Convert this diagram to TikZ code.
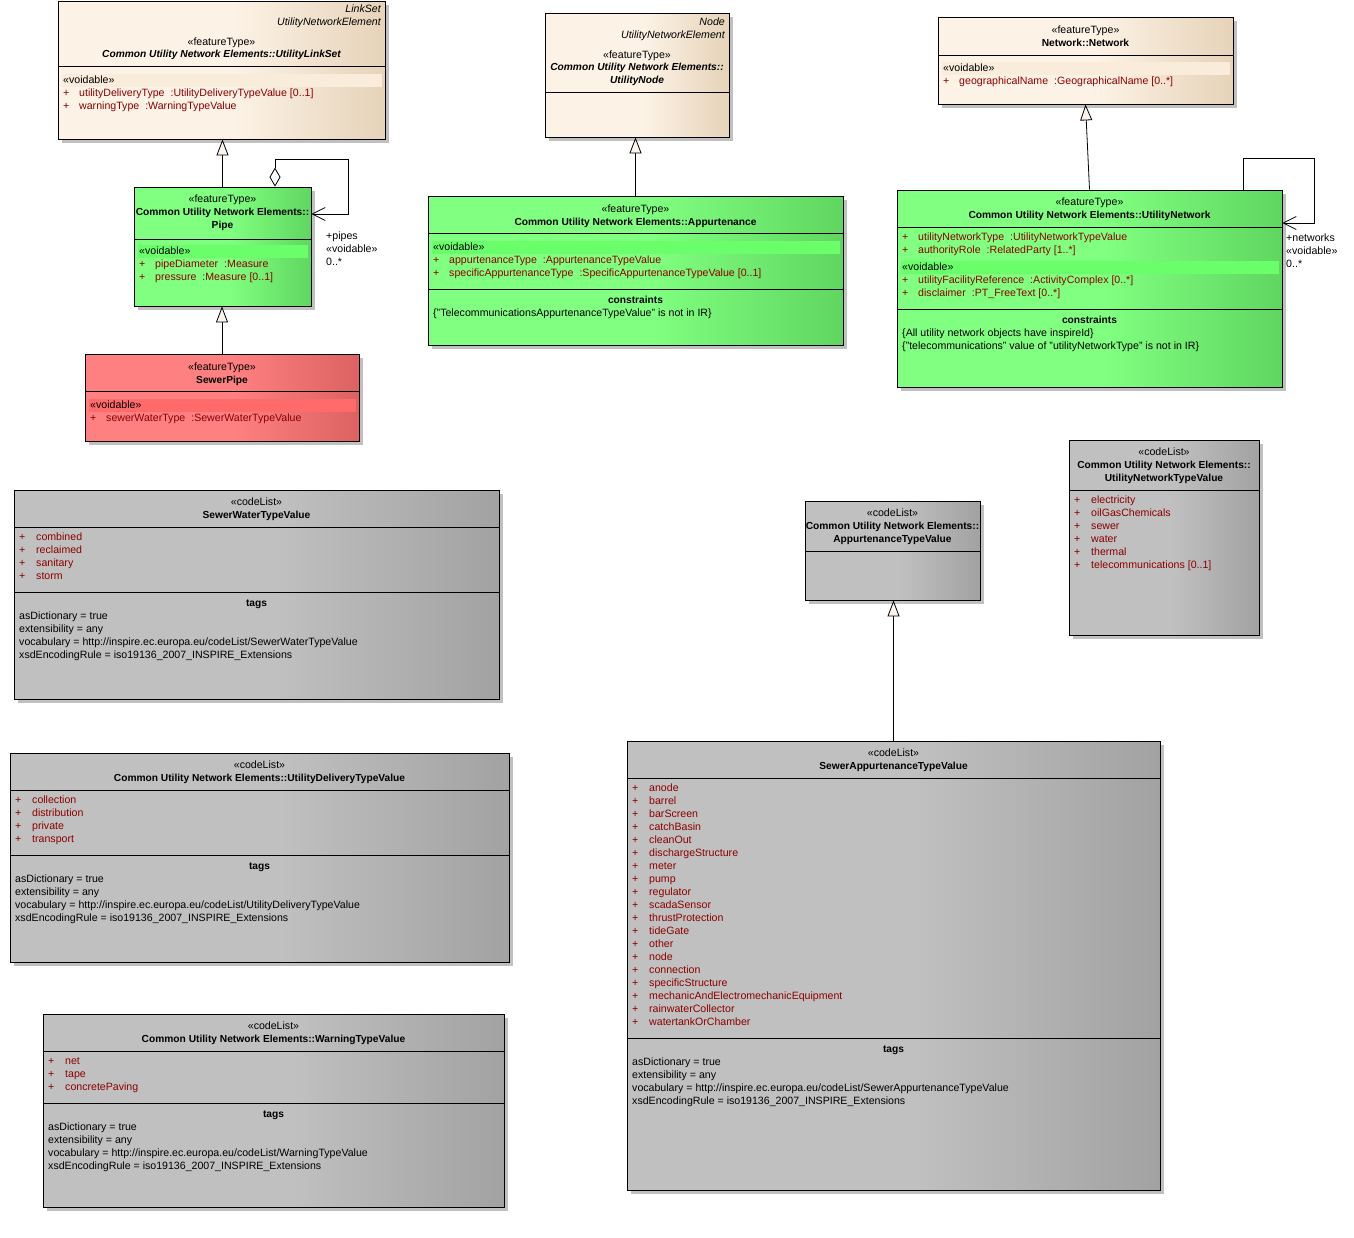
\documentclass[tikz,border=0pt]{standalone}
\usepackage{fontspec}
\setmainfont{Liberation Sans}
\usetikzlibrary{arrows.meta,fit,calc}
\definecolor{beL}{HTML}{FCF2E5}
\definecolor{beD}{HTML}{E6D3B9}
\definecolor{grL}{HTML}{80FF80}
\definecolor{grD}{HTML}{60D660}
\definecolor{reL}{HTML}{FF8080}
\definecolor{reD}{HTML}{DC6262}
\definecolor{gyL}{HTML}{C0C0C0}
\definecolor{gyD}{HTML}{A2A2A2}
\definecolor{beB}{HTML}{F9ECDB}
\definecolor{grB}{HTML}{6AFF6A}
\definecolor{reB}{HTML}{FF6A6A}
\definecolor{attr}{HTML}{8C0000}
\definecolor{shad}{HTML}{C0C0C0}
\definecolor{tri}{HTML}{FBF5EC}
\pgfdeclarehorizontalshading{beS}{100bp}{color(0bp)=(beL); color(52bp)=(beL); color(75bp)=(beD); color(100bp)=(beD)}
\pgfdeclarehorizontalshading{grS}{100bp}{color(0bp)=(grL); color(52bp)=(grL); color(75bp)=(grD); color(100bp)=(grD)}
\pgfdeclarehorizontalshading{reS}{100bp}{color(0bp)=(reL); color(52bp)=(reL); color(75bp)=(reD); color(100bp)=(reD)}
\pgfdeclarehorizontalshading{gyS}{100bp}{color(0bp)=(gyL); color(52bp)=(gyL); color(75bp)=(gyD); color(100bp)=(gyD)}
\newcommand\fs{\fontsize{10.6}{12}\selectfont}
\newcommand\fsb{\fontsize{10.2}{12}\selectfont}
\newcounter{tn}
\newcommand\T[3][]{\stepcounter{tn}\node[txt,#1] (t\arabic{tn}) at (#2) {#3};}
\newcommand\umlbox[6]{%
  \fill[shad] (#2+4,#3+4) rectangle (#4+4,#5+4);
  \node[fit={(#2,#3) (#4,#5)},inner sep=0pt,draw=black,line width=0.8pt,shade,shading=#6] (#1) {};}
\newcommand\cdiv[3]{\draw[div] (#1,#3) -- (#2,#3);}
\newcommand\band[4]{\fill[#4] (#1+4,#3-6.5) rectangle (#2-3,#3+6.5);}
\newcommand\attr[4]{\T[ac]{#1+5,#2}{+}\T[ac]{#1+21,#2}{#3\hspace{6pt}:#4}}
\newcommand\litem[3]{\T[ac]{#1+5,#2}{+}\T[ac]{#1+22,#2}{#3}}
\begin{document}
\begin{tikzpicture}[x=1pt,y=-1pt,
  txt/.style={inner sep=0pt,anchor=west,font=\fs,text height=7pt,text depth=2pt,yshift=-0.8pt},
  ct/.style={anchor=center}, rt/.style={anchor=east},
  it/.style={font=\fs\itshape}, bf/.style={font=\fsb\bfseries}, bi/.style={font=\fsb\bfseries\itshape},
  ac/.style={text=attr},
  div/.style={line width=0.8pt},
  gen/.style={line width=0.8pt,-{Triangle[length=16pt,width=12pt,fill=tri]}},
  agg/.style={line width=0.8pt,{Diamond[length=19pt,width=11pt,fill=white]}-{Straight Barb[length=13pt,width=13pt]}},
  nav/.style={line width=0.8pt,-{Straight Barb[length=13pt,width=13pt]}}]
\fill[white] (0,0) rectangle (1354,1237);
\useasboundingbox (0,0) rectangle (1354,1237);

% ---------- UtilityLinkSet
\umlbox{linkset}{58}{1}{385}{139}{beS}
\T[rt,it]{381,9.5}{LinkSet}
\T[rt,it]{381,22.5}{UtilityNetworkElement}
\T[ct]{221.5,42.5}{«featureType»}
\T[ct,bi]{221.5,54.5}{Common Utility Network Elements::UtilityLinkSet}
\cdiv{58}{385}{66}
\band{58}{385}{80.5}{beB}
\T{63,80.5}{«voidable»}
\attr{58}{93.5}{utilityDeliveryType}{UtilityDeliveryTypeValue [0..1]}
\attr{58}{106.5}{warningType}{WarningTypeValue}

% ---------- Pipe
\umlbox{pipe}{134}{187}{311}{306}{grS}
\T[ct]{222.5,199.5}{«featureType»}
\T[ct,bf]{222.5,212.5}{Common Utility Network Elements::}
\T[ct,bf]{222.5,225.5}{Pipe}
\cdiv{134}{311}{239}
\band{134}{311}{251.5}{grB}
\T{139,251.5}{«voidable»}
\attr{134}{264.5}{pipeDiameter}{Measure}
\attr{134}{277.5}{pressure}{Measure [0..1]}

% ---------- SewerPipe
\umlbox{sewerpipe}{85}{354}{359}{441}{reS}
\T[ct]{222,367.5}{«featureType»}
\T[ct,bf]{222,380.5}{SewerPipe}
\cdiv{85}{359}{391}
\band{85}{359}{405.5}{reB}
\T{90,405.5}{«voidable»}
\attr{85}{418.5}{sewerWaterType}{SewerWaterTypeValue}

% ---------- UtilityNode
\umlbox{unode}{545}{13}{729}{137}{beS}
\T[rt,it]{725,22.5}{Node}
\T[rt,it]{725,35.5}{UtilityNetworkElement}
\T[ct]{637,55}{«featureType»}
\T[ct,bi]{637,67}{Common Utility Network Elements::}
\T[ct,bi]{637,80}{UtilityNode}
\cdiv{545}{729}{92.5}

% ---------- Appurtenance
\umlbox{appurt}{428}{196}{843}{345}{grS}
\T[ct]{635.5,209.5}{«featureType»}
\T[ct,bf]{635.5,222}{Common Utility Network Elements::Appurtenance}
\cdiv{428}{843}{233.5}
\band{428}{843}{247.5}{grB}
\T{433,247.5}{«voidable»}
\attr{428}{260.5}{appurtenanceType}{AppurtenanceTypeValue}
\attr{428}{273.5}{specificAppurtenanceType}{SpecificAppurtenanceTypeValue [0..1]}
\cdiv{428}{843}{289.5}
\T[ct,bf]{635.5,300.5}{constraints}
\T{433,313.5}{\{"TelecommunicationsAppurtenanceTypeValue" is not in IR\}}

% ---------- Network
\umlbox{network}{938}{17}{1233}{104}{beS}
\T[ct]{1085.5,30.5}{«featureType»}
\T[ct,bf]{1085.5,43}{Network::Network}
\cdiv{938}{1233}{55}
\band{938}{1233}{68.5}{beB}
\T{943,68.5}{«voidable»}
\attr{938}{81.5}{geographicalName}{GeographicalName [0..*]}

% ---------- UtilityNetwork
\umlbox{unet}{897}{190}{1282}{387}{grS}
\T[ct]{1089.5,202.5}{«featureType»}
\T[ct,bf]{1089.5,215.5}{Common Utility Network Elements::UtilityNetwork}
\cdiv{897}{1282}{227.5}
\attr{897}{237.5}{utilityNetworkType}{UtilityNetworkTypeValue}
\attr{897}{250.5}{authorityRole}{RelatedParty [1..*]}
\band{897}{1282}{267.5}{grB}
\T{902,267.5}{«voidable»}
\attr{897}{280.5}{utilityFacilityReference}{ActivityComplex [0..*]}
\attr{897}{293.5}{disclaimer}{PT\_FreeText [0..*]}
\cdiv{897}{1282}{309.5}
\T[ct,bf]{1089.5,320.5}{constraints}
\T{902,333.5}{\{All utility network objects have inspireId\}}
\T{902,346.5}{\{"telecommunications" value of "utilityNetworkType" is not in IR\}}

% ---------- SewerWaterTypeValue
\umlbox{swtv}{14}{490}{499}{699}{gyS}
\T[ct]{256.5,502.5}{«codeList»}
\T[ct,bf]{256.5,515.5}{SewerWaterTypeValue}
\cdiv{14}{499}{527.5}
\foreach \n [count=\i from 0] in {combined,reclaimed,sanitary,storm}{\litem{14}{537.5+13*\i}{\n}}
\cdiv{14}{499}{592.5}
\T[ct,bf]{256.5,603.5}{tags}
\T{19,616.5}{asDictionary = true}
\T{19,629.5}{extensibility = any}
\T{19,642.5}{vocabulary = http://inspire.ec.europa.eu/codeList/SewerWaterTypeValue}
\T{19,655.5}{xsdEncodingRule = iso19136\_2007\_INSPIRE\_Extensions}

% ---------- AppurtenanceTypeValue
\umlbox{atv}{805}{501}{980}{600}{gyS}
\T[ct]{892.5,513.5}{«codeList»}
\T[ct,bf]{892.5,526.5}{Common Utility Network Elements::}
\T[ct,bf]{892.5,539.5}{AppurtenanceTypeValue}
\cdiv{805}{980}{551.5}

% ---------- UtilityNetworkTypeValue
\umlbox{untv}{1069}{440}{1259}{635}{gyS}
\T[ct]{1164,452.5}{«codeList»}
\T[ct,bf]{1164,465.5}{Common Utility Network Elements::}
\T[ct,bf]{1164,478.5}{UtilityNetworkTypeValue}
\cdiv{1069}{1259}{490.5}
\foreach \n [count=\i from 0] in {electricity,oilGasChemicals,sewer,water,thermal,telecommunications [0..1]}{\litem{1069}{500.5+13*\i}{\n}}

% ---------- UtilityDeliveryTypeValue
\umlbox{udtv}{10}{753}{509}{962}{gyS}
\T[ct]{259.5,765.5}{«codeList»}
\T[ct,bf]{259.5,778.5}{Common Utility Network Elements::UtilityDeliveryTypeValue}
\cdiv{10}{509}{790.5}
\foreach \n [count=\i from 0] in {collection,distribution,private,transport}{\litem{10}{800.5+13*\i}{\n}}
\cdiv{10}{509}{855.5}
\T[ct,bf]{259.5,866.5}{tags}
\T{15,879.5}{asDictionary = true}
\T{15,892.5}{extensibility = any}
\T{15,905.5}{vocabulary = http://inspire.ec.europa.eu/codeList/UtilityDeliveryTypeValue}
\T{15,918.5}{xsdEncodingRule = iso19136\_2007\_INSPIRE\_Extensions}

% ---------- WarningTypeValue
\umlbox{wtv}{43}{1014}{504}{1207}{gyS}
\T[ct]{273.5,1026.5}{«codeList»}
\T[ct,bf]{273.5,1039.5}{Common Utility Network Elements::WarningTypeValue}
\cdiv{43}{504}{1051.5}
\foreach \n [count=\i from 0] in {net,tape,concretePaving}{\litem{43}{1061.5+13*\i}{\n}}
\cdiv{43}{504}{1103.5}
\T[ct,bf]{273.5,1114.5}{tags}
\T{48,1127.5}{asDictionary = true}
\T{48,1140.5}{extensibility = any}
\T{48,1153.5}{vocabulary = http://inspire.ec.europa.eu/codeList/WarningTypeValue}
\T{48,1166.5}{xsdEncodingRule = iso19136\_2007\_INSPIRE\_Extensions}

% ---------- SewerAppurtenanceTypeValue
\umlbox{satv}{627}{741}{1160}{1190}{gyS}
\T[ct]{893.5,753.5}{«codeList»}
\T[ct,bf]{893.5,766.5}{SewerAppurtenanceTypeValue}
\cdiv{627}{1160}{778.5}
\foreach \n [count=\i from 0] in {anode,barrel,barScreen,catchBasin,cleanOut,dischargeStructure,meter,pump,regulator,scadaSensor,thrustProtection,tideGate,other,node,connection,specificStructure,mechanicAndElectromechanicEquipment,rainwaterCollector,watertankOrChamber}{\litem{627}{788.5+13*\i}{\n}}
\cdiv{627}{1160}{1038.5}
\T[ct,bf]{893.5,1049.5}{tags}
\T{632,1062.5}{asDictionary = true}
\T{632,1075.5}{extensibility = any}
\T{632,1088.5}{vocabulary = http://inspire.ec.europa.eu/codeList/SewerAppurtenanceTypeValue}
\T{632,1101.5}{xsdEncodingRule = iso19136\_2007\_INSPIRE\_Extensions}

% ---------- connectors
\draw[gen] (pipe.north) -- (pipe.north |- linkset.south);
\draw[gen] (sewerpipe.north) -- (sewerpipe.north |- pipe.south);
\draw[gen] (appurt.north) -- (appurt.north |- unode.south);
\draw[gen] (unet.north) -- (network.south);
\draw[gen] (satv.north) -- (satv.north |- atv.south);

\coordinate (pl1) at (275,159);
\coordinate (pl2) at (348,159);
\coordinate (pl3) at (348,214);
\draw[agg] (pipe.north -| pl1) -- (pl1) -- (pl2) -- (pl3) -- (pl3 -| pipe.east);
\T{326,236.5}{+pipes}
\T{326,249.5}{«voidable»}
\T{326,262.5}{0..*}

\coordinate (nl1) at (1243,158);
\coordinate (nl2) at (1314,158);
\coordinate (nl3) at (1314,223);
\draw[nav] (unet.north -| nl1) -- (nl1) -- (nl2) -- (nl3) -- (nl3 -| unet.east);
\T{1286,238.5}{+networks}
\T{1286,251.5}{«voidable»}
\T{1286,264.5}{0..*}
\end{tikzpicture}
\end{document}
